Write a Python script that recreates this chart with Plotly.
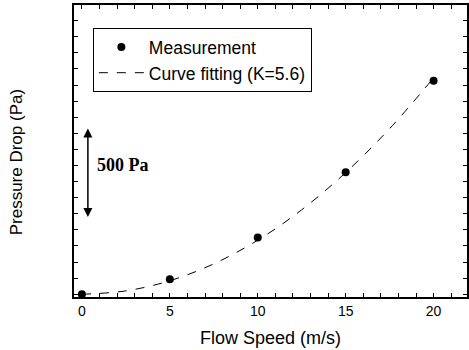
import plotly.graph_objects as go

# Data
speed = [0, 5, 10, 15, 20]
measured = [0, 93, 352, 758, 1327]
fit_speed = [0, 2.5, 5, 7.5, 10, 12.5, 15, 17.5, 20]
fit_drop = [0, 21, 84, 189, 336, 525, 756, 1029, 1344]

# tick positions (every 1 m/s and every 100 Pa); labels only at the major ones
x_tick_vals = list(range(0, 22))
x_tick_text = [str(v) if v % 5 == 0 else "" for v in x_tick_vals]
y_tick_vals = list(range(0, 1800, 100))

X_RANGE = [-0.45, 21.9]
Y_RANGE = [-17, 1797]

fig = go.Figure()
fig.add_trace(go.Scatter(
    x=speed, y=measured, mode="markers", name="Measurement",
    marker=dict(color="black", size=8, symbol="circle"),
))
fig.add_trace(go.Scatter(
    x=fit_speed, y=fit_drop, mode="lines", name="Curve fitting (K=5.6)",
    line=dict(color="black", width=1, dash="dash", shape="spline"),
))

fig.update_layout(
    width=469, height=350,
    margin=dict(l=74, r=0, t=5, b=53),
    paper_bgcolor="white", plot_bgcolor="white",
    font=dict(family="Liberation Sans, Arial, sans-serif", color="black", size=14),
    showlegend=True,
    legend=dict(
        x=0.048, y=0.921, xanchor="left", yanchor="top",
        bordercolor="black", borderwidth=1, bgcolor="white",
        font=dict(size=17.5, family="Liberation Sans, Arial, sans-serif"),
        tracegroupgap=0, itemwidth=45,
    ),
    xaxis=dict(
        range=X_RANGE, tickmode="array", tickvals=x_tick_vals, ticktext=x_tick_text,
        ticks="inside", ticklen=4, tickwidth=1.2, tickcolor="black",
        showline=True, linecolor="black", linewidth=2, mirror="ticks",
        showgrid=False, zeroline=False,
        title=dict(text="Flow Speed (m/s)", font=dict(size=18), standoff=14),
        tickfont=dict(size=14),
    ),
    yaxis=dict(
        range=Y_RANGE, tickmode="array", tickvals=y_tick_vals, showticklabels=False,
        ticks="inside", ticklen=4, tickwidth=1.2, tickcolor="black",
        showline=True, linecolor="black", linewidth=2, mirror="ticks",
        showgrid=False, zeroline=False,
    ),
)

fig.add_annotation(
    x=-0.147, y=0.462, xref="paper", yref="paper", xanchor="center", yanchor="middle",
    text="Pressure Drop (Pa)", textangle=-90, showarrow=False,
    font=dict(size=17, family="Liberation Sans, Arial, sans-serif", color="black"),
)
fig.add_annotation(
    x=0.34, y=1030, ax=0.34, ay=470, xref="x", yref="y", axref="x", ayref="y",
    text="", showarrow=True, arrowhead=2, arrowside="end+start",
    arrowsize=1.2, arrowwidth=1.5, arrowcolor="black",
)
fig.add_annotation(
    x=0.74, y=803, xref="x", yref="y", xanchor="left", yanchor="middle",
    text="<b>500 Pa</b>", showarrow=False,
    font=dict(family="Liberation Serif, Times New Roman, serif", size=18, color="black"),
)

fig.write_html("out.html")
